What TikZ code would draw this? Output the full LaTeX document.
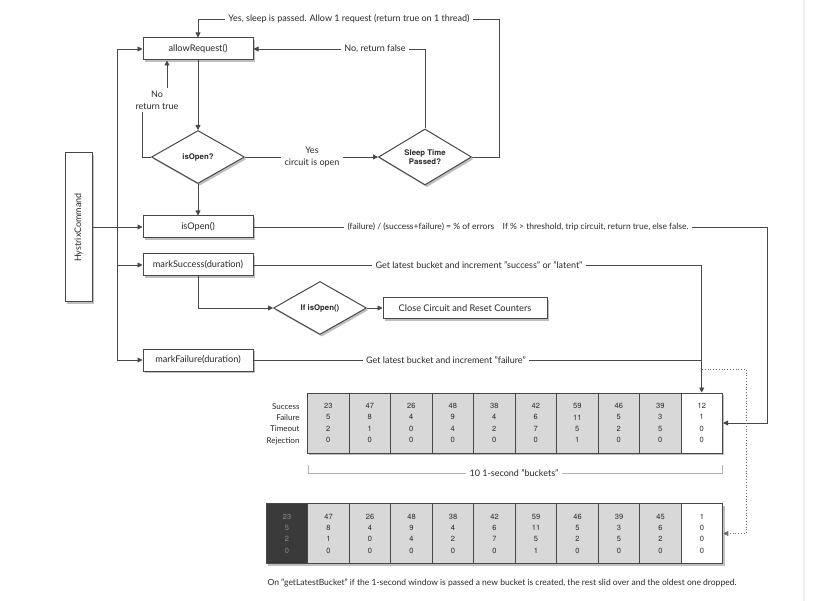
\documentclass[tikz,border=0pt]{standalone}
\usepackage{fontspec}
\setmainfont{Lato}
\newfontfamily\helv{TeX Gyre Heros}
\usetikzlibrary{shapes.geometric,shadows,arrows.meta}

\definecolor{linegray}{HTML}{484848}
\definecolor{textgray}{HTML}{282828}
\definecolor{cellgray}{HTML}{D8D8D8}
\definecolor{olddark}{HTML}{3A3A3A}

\tikzset{
	flow/.style={draw=linegray, line width=0.9pt},
	arr/.style={flow, -{Triangle[length=5pt,width=5pt]}},
	dotarr/.style={draw=linegray!80, line width=0.8pt, dotted, -{Triangle[length=5pt,width=5pt]}},
	shade/.style={drop shadow={shadow xshift=1.8pt, shadow yshift=-2.2pt, opacity=0.5}},
	call/.style={draw=linegray, line width=1pt, fill=white, shade, minimum width=110pt, minimum height=22pt, inner sep=0pt, text=textgray, font=\fontsize{9.2}{11}\selectfont},
	test/.style={diamond, draw=linegray, line width=1pt, fill=white, shade, minimum width=93pt, minimum height=53pt, inner sep=0pt, align=center, text=textgray, font=\helv\bfseries\fontsize{7.8}{9}\selectfont},
	lbl/.style={text=textgray, inner sep=3pt, font=\fontsize{9}{12}\selectfont},
	bucket/.style={draw=linegray, line width=1pt, fill=cellgray, shade, minimum width=41.5pt, minimum height=60pt, inner sep=0pt, align=center, text=textgray, font=\helv\fontsize{7.5}{11.3}\selectfont},
}

\begin{document}
\begin{tikzpicture}[x=1pt, y=-1pt]
	
	\useasboundingbox (0,0) rectangle (816,601);
	\draw[black!6, line width=2pt] (804,0) -- (804,601);
	
	\node[call] (allow) at (198,49)      {allowRequest()};
	\node[call] (isopenb) at (198,227)   {isOpen()};
	\node[call] (succ) at (198,265)      {markSuccess(duration)};
	\node[call] (fail) at (198,360)      {markFailure(duration)};
	\node[call, minimum width=164pt, minimum height=21pt] (close) at (465,308) {Close Circuit and Reset Counters};
	\node[call, minimum width=27pt, minimum height=149pt] (hystrix) at (78.5,227.5) {};
	\node[rotate=90, text=textgray, font=\fontsize{9}{10}\selectfont] (hystrixtext) at (hystrix) {HystrixCommand};
	
	\node[test] (open) at (198,157)      {isOpen?};
	\node[test] (sleep) at (425,157)     {Sleep Time\\Passed?};
	\node[test] (ifopen) at (320,308)    {If isOpen()};
	
	\node[lbl] (sleepyes) at (349,19)    {Yes, sleep is passed. Allow 1 request (return true on 1 thread)};
	\node[lbl] (nofalse) at (375,49)     {No, return false};
	\node[lbl, align=center] (notrue) at (157,100) {No\\return true};
	\node[lbl, align=center] (yesopen) at (312,157) {Yes\\circuit is open};
	\node[lbl, font=\fontsize{8.5}{12}\selectfont] (errtext) at (518,227) {(failure) / (success+failure) = \% of errors\quad If \% > threshold, trip circuit, return true, else false.};
	\node[lbl] (succtext) at (479,265)   {Get latest bucket and increment "success" or "latent"};
	\node[lbl] (failtext) at (446,360)   {Get latest bucket and increment "failure"};
	
	\coordinate (bustop) at (117,49);
	\coordinate (busbot) at (117,360);
	\coordinate (errturn) at (767,227);
	\coordinate (dotstart) at (702,369);
	\coordinate (dotturn) at (746,369);
	
	% current window
	\node[text=textgray, align=right, anchor=east, font=\fontsize{8}{11.3}\selectfont] (rowlabels) at (303,424) {Success\\Failure\\Timeout\\Rejection};
	\node[bucket] (t1) at (328.25,423)  {23\\5\\2\\0};
	\node[bucket] (t2) at (369.75,423)  {47\\8\\1\\0};
	\node[bucket] (t3) at (411.25,423)  {26\\4\\0\\0};
	\node[bucket] (t4) at (452.75,423)  {48\\9\\4\\0};
	\node[bucket] (t5) at (494.25,423)  {38\\4\\2\\0};
	\node[bucket] (t6) at (535.75,423)  {42\\6\\7\\0};
	\node[bucket] (t7) at (577.25,423)  {59\\11\\5\\1};
	\node[bucket] (t8) at (618.75,423)  {46\\5\\2\\0};
	\node[bucket] (t9) at (660.25,423)  {39\\3\\5\\0};
	\node[bucket, fill=white] (t10) at (701.75,423) {12\\1\\0\\0};
	
	\node[lbl] (brtext) at (514,473) {10 1-second "buckets"};
	\draw[black!30, line width=0.8pt] (308,465) |- (brtext.west);
	\draw[black!30, line width=0.8pt] (brtext.east) -| (722,465);
	
	% after the window is passed
	\node[bucket, fill=olddark, text=black!45] (b1) at (287,533.5) {23\\5\\2\\0};
	\node[bucket] (b2) at (328.5,533.5)  {47\\8\\1\\0};
	\node[bucket] (b3) at (370,533.5)    {26\\4\\0\\0};
	\node[bucket] (b4) at (411.5,533.5)  {48\\9\\4\\0};
	\node[bucket] (b5) at (453,533.5)    {38\\4\\2\\0};
	\node[bucket] (b6) at (494.5,533.5)  {42\\6\\7\\0};
	\node[bucket] (b7) at (536,533.5)    {59\\11\\5\\1};
	\node[bucket] (b8) at (577.5,533.5)  {46\\5\\2\\0};
	\node[bucket] (b9) at (619,533.5)    {39\\3\\5\\0};
	\node[bucket] (b10) at (660.5,533.5) {45\\6\\2\\0};
	\node[bucket, fill=white] (b11) at (702,533.5) {1\\0\\0\\0};
	
	\node[lbl, font=\fontsize{8.5}{12}\selectfont] (caption) at (502,583) {On "getLatestBucket" if the 1-second window is passed a new bucket is created, the rest slid over and the oldest one dropped.};
	
	\draw[arr] (allow.south) -- (open.north);
	\draw[arr] (open.south) -- (isopenb.north);
	\draw[flow] (open.west) -| ([xshift=10pt]notrue.south west);
	\draw[arr] ([xshift=10pt]notrue.north) -- ([xshift=10pt]notrue.north |- allow.south);
	\draw[flow] (open.east) -- (yesopen.west |- open.east);
	\draw[arr] (yesopen.east |- open.east) -- (sleep.west);
	\draw[flow] (sleep.east) -| (499,19) -- (sleepyes.east);
	\draw[arr] (sleepyes.west) -| (allow.north);
	\draw[flow] (sleep.north) |- (nofalse.east);
	\draw[arr] (nofalse.west) -- (allow.east);
	
	\draw[flow] (bustop) -- (busbot);
	\draw[arr] (bustop) -- (allow.west);
	\draw[arr] (bustop |- succ.west) -- (succ.west);
	\draw[arr] (busbot) -- (fail.west);
	\draw[arr] (hystrix.east |- isopenb.west) -- (isopenb.west);
	
	\draw[arr] (succ.south) |- (ifopen.west);
	\draw[arr] (ifopen.east) -- (close.west);
	
	\draw[flow] (isopenb.east) -- (errtext.west);
	\draw[arr] (errtext.east) -- (errturn) |- (t10.east);
	\draw[flow] (succ.east) -- (succtext.west);
	\draw[arr] (succtext.east) -| (t10.north);
	\draw[flow] (fail.east) -- (failtext.west);
	\draw[flow] (failtext.east) -- (failtext.east -| t10.north);
	\draw[dotarr] (dotstart) -- (dotturn) |- (b11.east);
	
\end{tikzpicture}
\end{document}
